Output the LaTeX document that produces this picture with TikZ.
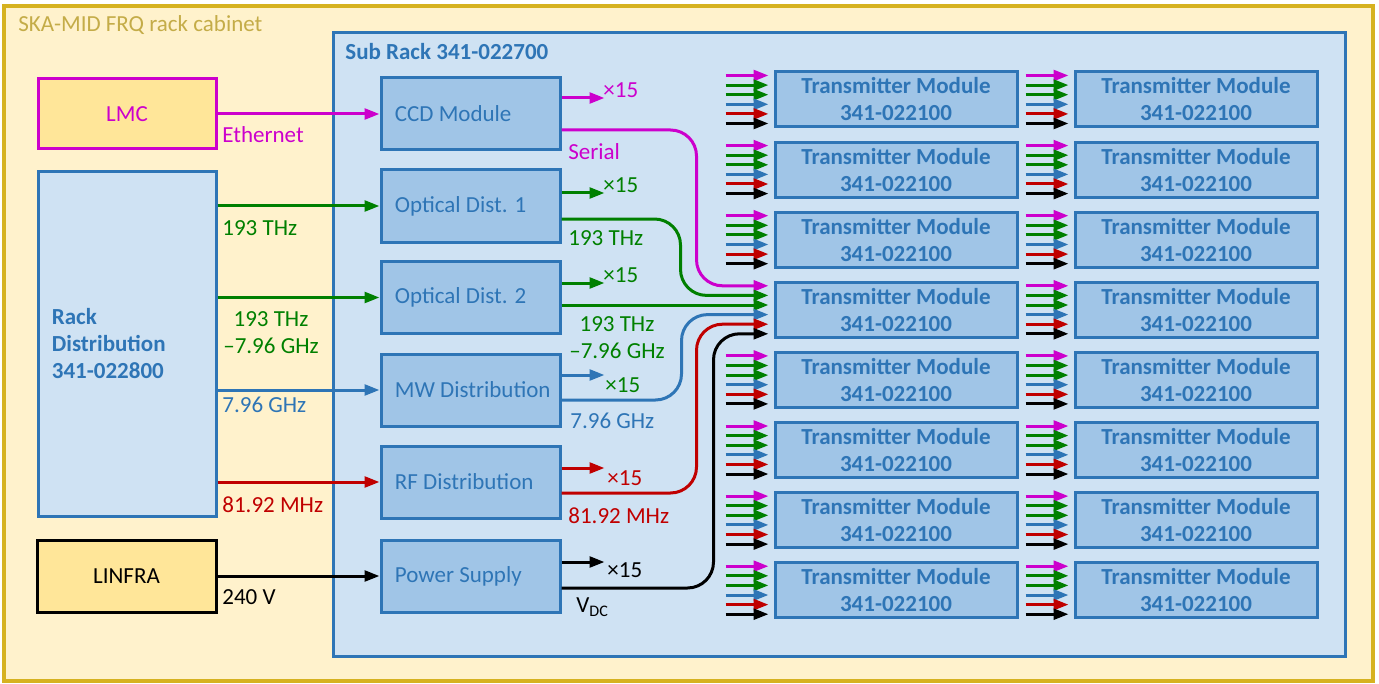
\documentclass[tikz,border=0pt]{standalone}
\usepackage{fontspec}
\setmainfont{Carlito}
\usetikzlibrary{arrows.meta,calc}

\definecolor{cabline}{RGB}{214,178,32}
\definecolor{cabfill}{RGB}{255,242,204}
\definecolor{cabtext}{RGB}{196,172,72}
\definecolor{subfill}{RGB}{207,226,243}
\definecolor{modfill}{RGB}{160,197,231}
\definecolor{lmcfill}{RGB}{255,230,153}
\definecolor{blu}{RGB}{46,117,182}
\definecolor{mag}{RGB}{204,0,204}
\definecolor{grn}{RGB}{0,128,0}
\definecolor{red}{RGB}{192,0,0}

\newcommand{\diagfont}{\fontsize{11.5}{13.5}\selectfont}

\tikzstyle{box} = [draw, line width=1.5pt, inner sep=0pt]
\tikzstyle{mod} = [box, draw=blu, fill=modfill, minimum width=89.5pt, minimum height=36pt]
\tikzstyle{modtxt} = [anchor=west, xshift=7.5pt, text=blu, inner sep=0pt]
\tikzstyle{tm} = [box, draw=blu, fill=modfill, minimum width=121pt, minimum height=27.5pt,
                  text=blu, font=\diagfont\bfseries, align=center]
\tikzstyle{sig} = [line width=1.5pt, -{Triangle[length=7.5pt,width=5.4pt]}]
\tikzstyle{lbl} = [anchor=west, inner sep=0pt]

\begin{document}
\begin{tikzpicture}[x=0.5pt, y=-0.5pt, font=\diagfont]
  \useasboundingbox[fill=white] (0,0) rectangle (1379,684);

  % cabinet and sub rack
  \node[box, draw=cabline, line width=2pt, fill=cabfill, minimum width=684.5pt, minimum height=337.5pt] (cabinet) at (688.5,343.5) {};
  \node[lbl, text=cabtext] (cabinet-title) at (18,25) {SKA-MID FRQ rack cabinet};
  \node[box, draw=blu, fill=subfill, minimum width=506pt, minimum height=311.5pt] (subrack) at (839,344.5) {};
  \node[lbl, text=blu, font=\diagfont\bfseries] (subrack-title) at (345,52) {Sub Rack 341-022700};

  % outside the sub rack
  \node[box, draw=mag, fill=lmcfill, minimum width=89pt, minimum height=35pt, text=mag] (lmc) at (127,114) {LMC};
  \node[box, draw=blu, fill=subfill, minimum width=89pt, minimum height=172pt,
        label={[modtxt, font=\diagfont\bfseries, align=left]west:{Rack\\Distribution\\341-022800}}] (rack) at (127,344) {};
  \node[box, draw=black, fill=lmcfill, minimum width=89.5pt, minimum height=36pt] (linfra) at (126.5,576) {LINFRA};

  % modules of the sub rack
  \node[mod, label={[modtxt]west:CCD Module}] (ccd) at (470.5,114) {};
  \node[mod, label={[modtxt]west:Optical Dist. 1}] (opt1) at (470.5,206) {};
  \node[mod, label={[modtxt]west:Optical Dist. 2}] (opt2) at (470.5,297.5) {};
  \node[mod, label={[modtxt]west:MW Distribution}] (mw) at (470.5,390) {};
  \node[mod, label={[modtxt]west:RF Distribution}] (rf) at (470.5,482) {};
  \node[mod, label={[modtxt]west:Power Supply}] (ps) at (470.5,576) {};

  % inputs
  \draw[sig,mag] (lmc.east) -- (ccd.west);
  \draw[sig,grn] (rack.east |- opt1.west) -- (opt1.west);
  \draw[sig,grn] (rack.east |- opt2.west) -- (opt2.west);
  \draw[sig,blu] (rack.east |- mw.west) -- (mw.west);
  \draw[sig,red] (rack.east |- rf.west) -- (rf.west);
  \draw[sig,black] (linfra.east) -- (ps.west);

  \node[lbl, text=mag] (eth) at (222,135) {Ethernet};
  \node[lbl, text=grn] (thz-in) at (222,228) {193 THz};
  \node[text=grn, align=center, inner sep=0pt] (lo-in) at (271,333) {193 THz\\--7.96 GHz};
  \node[lbl, text=blu] (ghz-in) at (222,405) {7.96 GHz};
  \node[lbl, text=red] (mhz-in) at (222,505) {81.92 MHz};
  \node[lbl] (volt-in) at (222,597) {240 V};

  % transmitter modules
  \foreach \c/\x in {1/896,2/1196}
    \foreach \r in {1,...,8}
      \node[tm] (tm-\c-\r) at (\x,{99.5+70.1*(\r-1)}) {Transmitter Module\\341-022100};

  \foreach \c in {1,2}
    \foreach \r in {1,...,8}
      \foreach \k/\dy in {1/-24,2/-14.4,3/-4.8,4/4.8,5/14.4,6/24}
        \coordinate (tm-\c-\r-\k) at ($(tm-\c-\r.west)+(-5,\dy)$);

  % the 15 fanned out modules
  \foreach \c/\r in {1/1,1/2,1/3,1/5,1/6,1/7,1/8,2/1,2/2,2/3,2/4,2/5,2/6,2/7,2/8}
    \foreach \k/\col in {1/mag,2/grn,3/grn,4/blu,5/red,6/black}
      \draw[sig,\col] ($(tm-\c-\r-\k)+(-43,0)$) -- (tm-\c-\r-\k);

  % fan out arrows
  \draw[sig,mag] ($(ccd.east)+(0,-16)$) -- +(43,0);
  \draw[sig,grn] ($(opt1.east)+(0,-13)$) -- +(43,0);
  \draw[sig,grn] ($(opt2.east)+(0,-14.5)$) -- +(43,0);
  \draw[sig,blu] ($(mw.east)+(0,-15)$) -- +(43,0);
  \draw[sig,red] ($(rf.east)+(0,-14)$) -- +(43,0);
  \draw[sig,black] ($(ps.east)+(0,-14)$) -- +(43,0);

  \node[lbl, text=mag] (ccd-x) at (603,90) {×15};
  \node[lbl, text=grn] (opt1-x) at (603,185) {×15};
  \node[lbl, text=grn] (opt2-x) at (603,275) {×15};
  \node[lbl, text=grn] (mw-x) at (605,385) {×15};
  \node[lbl, text=red] (rf-x) at (607,478) {×15};
  \node[lbl] (ps-x) at (607,570) {×15};

  % lines into one transmitter module
  \draw[sig,mag,rounded corners=13pt] ($(ccd.east)+(0,16)$) -| ($(tm-1-4-1)+(-72,0)$) -- (tm-1-4-1);
  \draw[sig,grn,rounded corners=13pt] ($(opt1.east)+(0,13)$) -| ($(tm-1-4-2)+(-88,0)$) -- (tm-1-4-2);
  \draw[sig,grn] (opt2.east |- tm-1-4-3) -- (tm-1-4-3);
  \draw[sig,blu,rounded corners=13pt] ($(mw.east)+(0,10)$) -| ($(tm-1-4-4)+(-87,0)$) -- (tm-1-4-4);
  \draw[sig,red,rounded corners=13pt] ($(rf.east)+(0,11)$) -| ($(tm-1-4-5)+(-72,0)$) -- (tm-1-4-5);
  \draw[sig,black,rounded corners=13pt] ($(ps.east)+(0,12)$) -| ($(tm-1-4-6)+(-55,0)$) -- (tm-1-4-6);

  \node[lbl, text=mag] (serial) at (568,152) {Serial};
  \node[lbl, text=grn] (thz-out) at (568,238) {193 THz};
  \node[text=grn, align=center, inner sep=0pt] (lo-out) at (617,338) {193 THz\\--7.96 GHz};
  \node[lbl, text=blu] (ghz-out) at (570,421) {7.96 GHz};
  \node[lbl, text=red] (mhz-out) at (568,516) {81.92 MHz};
  \node[lbl] (vdc) at (576,607) {V\textsubscript{DC}};
\end{tikzpicture}
\end{document}
